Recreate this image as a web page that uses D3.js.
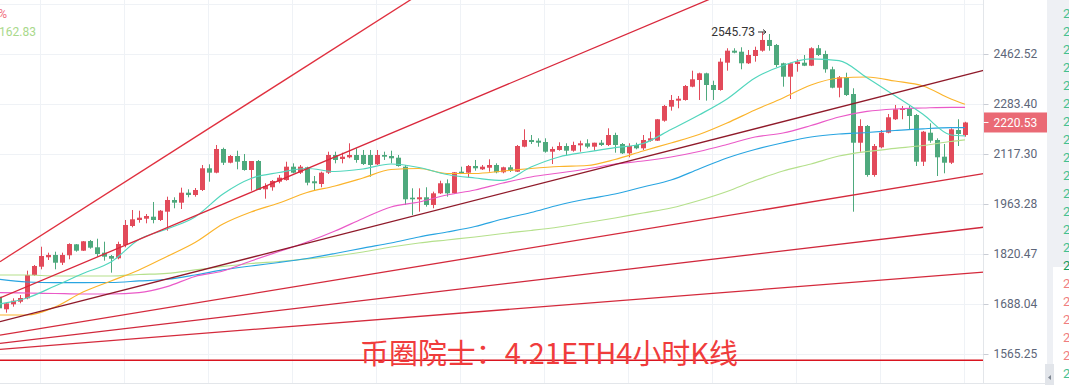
<!DOCTYPE html>
<html><head><meta charset="utf-8">
<script src="https://cdn.jsdelivr.net/npm/d3@7"></script>
<style>html,body{margin:0;padding:0;background:#fff;overflow:hidden}</style>
</head><body><svg id="c" width="1069" height="385"></svg>
<script>
// ---- candle data (4h ETH) ----
const openP = [1706.8,1674.6,1687.2,1693.9,1702.6,1763.6,1785.9,1811.5,1817.8,1796.7,1817.0,1847.3,1829.6,1856.5,1839.0,1824.1,1815.0,1808.7,1845.3,1899.1,1916.4,1920.2,1926.0,1916.4,1940.6,1975.2,1967.2,1997.1,1990.1,2005.3,2072.1,2058.4,2133.4,2089.6,2110.9,2095.0,2066.8,2095.0,2007.4,2013.5,2030.6,2035.6,2077.1,2058.4,2075.2,2031.8,2023.5,2058.4,2114.1,2101.4,2106.8,2114.1,2114.1,2114.1,2084.6,2114.1,2110.9,2105.5,2077.1,1982.1,1977.3,1983.3,1960.4,1995.2,2025.7,1995.2,2061.5,2058.4,2079.3,2068.9,2073.9,2082.4,2059.6,2075.2,2061.5,2140.8,2162.6,2160.3,2156.0,2124.7,2130.2,2143.0,2127.9,2145.3,2151.8,2140.8,2153.7,2146.3,2178.9,2149.5,2119.5,2146.3,2135.6,2160.3,2160.3,2226.5,2274.2,2294.9,2297.3,2343.9,2367.7,2391.7,2349.9,2332.2,2430.4,2474.9,2471.1,2428.2,2455.1,2474.9,2515.3,2496.3,2428.2,2379.5,2425.6,2430.4,2419.4,2484.0,2462.5,2406.3,2340.3,2377.4,2318.1,2153.7,2208.8,2051.2,2138.9,2186.5,2231.3,2262.9,2268.7,2245.8,2092.8,2186.5,2162.6,2108.7,2089.6,2195.5,2178.9];
const highP = [1711.1,1691.3,1702.6,1711.1,1775.2,1790.5,1840.6,1824.1,1826.8,1824.1,1850.1,1848.1,1856.5,1859.4,1863.0,1854.6,1817.8,1854.6,1916.4,1945.6,1943.5,1933.8,1969.3,1945.6,1985.1,1983.3,2012.3,2007.4,2011.3,2082.4,2084.6,2146.3,2137.6,2114.1,2127.9,2117.3,2095.0,2098.2,2025.7,2035.6,2051.2,2092.8,2087.7,2082.4,2077.1,2048.1,2061.5,2124.7,2124.7,2121.5,2151.8,2135.6,2130.2,2130.2,2130.2,2124.7,2127.9,2114.1,2082.4,2010.4,2010.4,2013.5,2000.2,2033.5,2037.7,2060.5,2077.1,2082.4,2098.2,2082.4,2100.4,2087.7,2077.1,2082.4,2146.3,2197.8,2178.9,2168.1,2168.1,2140.8,2155.1,2151.8,2157.0,2160.3,2164.9,2153.7,2162.6,2201.1,2186.5,2152.8,2151.8,2153.7,2178.9,2189.8,2232.3,2280.0,2314.6,2311.2,2349.9,2401.2,2393.9,2393.9,2365.2,2446.7,2484.0,2484.0,2487.6,2477.5,2489.9,2545.73,2538.0,2500.0,2430.4,2430.4,2443.0,2458.8,2487.6,2496.3,2474.9,2415.7,2382.0,2393.9,2338.2,2231.3,2212.1,2149.5,2195.5,2249.2,2280.0,2276.6,2276.6,2249.2,2192.2,2217.8,2168.1,2149.5,2201.1,2231.3,2223.0];
const lowP = [1672.8,1666.0,1681.2,1689.8,1700.1,1761.0,1778.9,1804.1,1778.9,1790.5,1806.0,1826.8,1828.8,1835.1,1813.1,1802.2,1769.8,1806.0,1839.0,1895.4,1908.6,1906.8,1906.8,1913.5,1885.7,1950.6,1948.5,1983.3,1985.1,2002.2,2030.6,2056.5,2082.4,2087.7,2068.9,2064.6,2003.1,2005.3,1979.1,2003.1,2025.7,2033.5,2056.5,2054.3,2019.5,2003.1,2013.5,2054.3,2087.7,2087.7,2103.6,2089.6,2082.4,2045.9,2082.4,2098.2,2087.7,2077.1,1960.4,1930.9,1940.6,1955.4,1950.6,1993.1,1985.1,1993.1,2054.3,2044.1,2064.6,2066.8,2061.5,2056.5,2056.5,2060.5,2060.5,2138.9,2149.5,2140.8,2121.5,2085.5,2127.9,2114.1,2124.7,2124.7,2135.6,2127.9,2143.0,2143.0,2121.5,2117.3,2106.8,2132.4,2130.2,2157.0,2159.3,2223.1,2260.5,2268.7,2294.9,2341.8,2297.3,2294.9,2297.3,2329.8,2401.2,2465.1,2406.3,2425.6,2434.1,2471.1,2474.9,2413.6,2343.9,2300.7,2397.6,2417.9,2417.9,2455.1,2393.9,2338.2,2306.6,2311.2,1940.6,2124.7,2045.9,2045.9,2135.6,2184.5,2228.9,2231.3,2197.8,2079.3,2079.3,2153.7,2048.1,2056.5,2085.5,2143.0,2173.3];
const closeP = [1677.1,1689.8,1696.5,1703.4,1763.6,1787.8,1815.0,1817.8,1796.7,1817.8,1848.1,1829.6,1855.7,1837.9,1820.5,1813.1,1807.6,1848.1,1902.0,1918.4,1923.1,1928.0,1916.4,1943.5,1975.2,1967.2,1997.1,1990.1,2005.3,2072.1,2058.4,2133.4,2089.6,2110.9,2092.8,2066.8,2095.0,2005.3,2017.4,2032.7,2042.9,2077.1,2058.4,2077.1,2027.5,2025.7,2058.4,2114.1,2098.2,2108.7,2114.1,2098.2,2085.5,2082.4,2114.1,2108.7,2103.6,2079.3,1977.3,1977.3,1983.3,1960.4,1995.2,2025.7,1995.2,2059.6,2056.5,2079.3,2072.1,2077.1,2082.4,2059.6,2075.2,2063.7,2143.0,2162.6,2156.0,2153.7,2124.7,2133.4,2143.0,2127.9,2146.3,2151.8,2140.8,2153.7,2146.3,2178.9,2146.3,2119.5,2143.0,2135.6,2162.6,2168.1,2231.3,2276.6,2297.3,2301.8,2346.3,2370.2,2391.7,2349.9,2332.2,2434.1,2474.9,2467.4,2428.2,2458.8,2477.5,2515.3,2492.5,2422.0,2379.5,2428.2,2434.1,2419.4,2484.0,2458.8,2406.3,2340.3,2377.4,2314.6,2153.7,2208.8,2051.2,2143.0,2186.5,2238.0,2265.3,2268.7,2242.4,2092.8,2189.8,2160.3,2106.8,2089.6,2197.8,2182.2,2220.53];

// ---- moving averages, sampled at candle indexes ----
const maIdx = [0,4,8,12,16,20,24,28,32,36,40,44,48,52,56,60,64,68,72,76,80,84,88,92,96,100,104,108,112,116,120,124,128,132,136,138];
const maCyan = [1688.0,1703.4,1734.6,1767.6,1798.7,1860.8,1890.6,1925.1,1993.1,2040.4,2059.0,2071.5,2062.1,2069.9,2085.5,2074.6,2052.8,2042.0,2034.3,2076.1,2107.8,2123.7,2137.6,2151.1,2197.1,2245.8,2300.8,2374.9,2420.1,2444.1,2438.0,2376.0,2312.0,2248.0,2179.0,2176.0];
const maOrange = [1660.2,1660.2,1680.4,1718.9,1747.8,1777.1,1813.7,1852.3,1904.8,1939.7,1966.3,1997.7,2017.4,2042.0,2068.3,2071.5,2055.9,2055.9,2063.7,2071.5,2077.7,2080.8,2099.8,2127.0,2152.8,2180.6,2218.8,2262.9,2304.2,2349.9,2374.9,2378.5,2364.1,2346.3,2300.8,2282.4];
const maPink = [1717.1,1716.3,1715.0,1713.7,1713.7,1717.1,1732.8,1759.7,1774.4,1801.4,1827.4,1853.7,1884.9,1920.8,1954.5,1969.3,1990.1,2005.3,2026.6,2045.1,2057.4,2069.9,2085.5,2095.0,2107.8,2125.4,2147.9,2172.4,2185.5,2210.4,2239.1,2257.8,2266.3,2269.7,2272.1,2272.1];
const maBlue = [1752.3,1745.1,1743.2,1743.2,1743.8,1747.8,1752.3,1763.6,1777.1,1787.8,1797.3,1808.2,1821.9,1836.9,1850.9,1867.8,1882.0,1897.7,1919.3,1938.2,1960.3,1978.2,1993.1,2014.4,2035.6,2069.9,2104.6,2131.8,2153.7,2172.4,2182.2,2187.2,2193.8,2199.5,2203.1,2203.1];
const maLime = [1763.6,1763.6,1761.0,1761.0,1761.0,1765.0,1768.2,1777.1,1786.5,1794.6,1800.0,1806.9,1815.0,1826.0,1839.8,1850.9,1859.4,1867.8,1877.7,1886.3,1896.2,1909.1,1922.2,1936.8,1951.5,1973.7,2000.7,2034.1,2063.7,2085.5,2111.0,2125.4,2135.2,2144.6,2157.7,2162.83];

// ---- drawn fan / trend lines: [start index, start price] -> [end index, end price] ----
const fanI0 = [0,0,0,0,0,0];
const fanP0 = [1797.8,1702.4,1643.0,1610.3,1590.5,1576.2];
const fanI1 = [60,102,140,140,140,140];
const fanP1 = [2694.5,2680.7,2397.9,2053.1,1894.0,1770.6];
const supportLevel = 1550.5;

// ---- axes ----
const yTicks = [2462.52,2283.40,2117.30,1963.28,1820.47,1688.04,1565.25];
const yGridExtra = [2655.6];
const xGridIdx = [6,18,30,42,54,66,78,90,102,114,126,138];
const maxLabel = "2545.73";
const legendPct = "+0.12%";
const legendLime = "2162.83";
const titleText = "币圈院士：4.21ETH4小时K线";

const W = 1069, H = 385;
const plotR = 983.5, plotB = 383;
const svg = d3.select("#c");
const x = d3.scaleLinear().domain([0,140]).range([-1,979]);
const y = d3.scaleLog().domain([1565.25,2462.52]).range([354,54]);

svg.append("defs").append("clipPath").attr("id","clip")
  .append("rect").attr("x",0).attr("y",0).attr("width",plotR).attr("height",plotB);

// grid
const grid = svg.append("g").attr("stroke","#eff2f6").attr("stroke-width",1);
yTicks.concat(yGridExtra).forEach(v=>{
  const yy = Math.round(y(v))+0.5;
  grid.append("line").attr("x1",0).attr("x2",plotR).attr("y1",yy).attr("y2",yy);
});
xGridIdx.forEach(i=>{
  const xx = Math.round(x(i))-0.5;
  grid.append("line").attr("x1",xx).attr("x2",xx).attr("y1",0).attr("y2",plotB);
});

const plot = svg.append("g").attr("clip-path","url(#clip)");

// candles
const UP = "#e24a5a", DN = "#4ea97d";
const candles = d3.range(openP.length).map(i=>({i,o:openP[i],h:highP[i],l:lowP[i],c:closeP[i]}));
const cg = plot.append("g");
candles.forEach(d=>{
  const col = d.c >= d.o ? UP : DN;
  const cx = Math.round(x(d.i));
  cg.append("line").attr("x1",cx+0.5).attr("x2",cx+0.5)
    .attr("y1",y(d.h)).attr("y2",y(d.l)).attr("stroke",col).attr("stroke-width",1);
  const top = y(Math.max(d.o,d.c)), bot = y(Math.min(d.o,d.c));
  cg.append("rect").attr("x",cx-2).attr("width",5)
    .attr("y",top).attr("height",Math.max(1,bot-top)).attr("fill",col);
});

// moving averages
const maSeries = [
  {v:maLime, c:"#b5e08c"},
  {v:maBlue, c:"#29a5e1"},
  {v:maPink, c:"#ea5ac8"},
  {v:maOrange, c:"#fbb42c"},
  {v:maCyan, c:"#52d6bd"}
];
const ln = d3.line().x(d=>x(d[0])).y(d=>y(d[1])).curve(d3.curveMonotoneX);
maSeries.forEach(s=>{
  plot.append("path").datum(maIdx.map((k,j)=>[k,s.v[j]]))
    .attr("d",ln).attr("fill","none").attr("stroke",s.c).attr("stroke-width",1.2);
});

// fan lines
const fanCols = ["#e0303f","#d9283c","#8f1a2a","#d42a3c","#d0283c","#d42a3c"];
fanI0.forEach((_,k)=>{
  const x0 = x(fanI0[k]), y0 = y(fanP0[k]), x1 = x(fanI1[k]), y1 = y(fanP1[k]);
  const s = (y1-y0)/(x1-x0);
  const xa = 0, xb = plotR;
  plot.append("line").attr("x1",xa).attr("y1",y0+s*(xa-x0))
    .attr("x2",xb).attr("y2",y0+s*(xb-x0))
    .attr("stroke",fanCols[k]).attr("stroke-width",1.3);
});
plot.append("line").attr("x1",0).attr("x2",plotR)
  .attr("y1",y(supportLevel)).attr("y2",y(supportLevel))
  .attr("stroke","#d9141f").attr("stroke-width",1.3);

// max annotation
let imax = d3.maxIndex(highP);
const ay = y(highP[imax]);
const ax1 = x(imax)+4, ax0 = ax1-8;
svg.append("text").attr("x",ax0-3).attr("y",ay+4).attr("text-anchor","end")
  .attr("font-family","Roboto").attr("font-size",12).attr("fill","#333").text(maxLabel);
svg.append("path").attr("d",`M${ax0},${ay}H${ax1}M${ax1-3},${ay-2.5}L${ax1},${ay}L${ax1-3},${ay+2.5}`)
  .attr("fill","none").attr("stroke","#333").attr("stroke-width",1);

// borders
svg.append("line").attr("x1",plotR).attr("x2",plotR).attr("y1",0).attr("y2",plotB)
  .attr("stroke","#e3e6ea");
svg.append("line").attr("x1",0).attr("x2",1047).attr("y1",plotB+0.5).attr("y2",plotB+0.5)
  .attr("stroke","#e3e6ea");

// right axis
const axisG = svg.append("g").attr("transform",`translate(${plotR},0)`)
  .call(d3.axisRight(y).tickValues(yTicks).tickFormat(d=>d.toFixed(2)).tickSize(5).tickPadding(5));
axisG.select(".domain").remove();
axisG.selectAll(".tick line").attr("stroke","#c9cdd5");
axisG.selectAll(".tick text").attr("fill","#5d6679").attr("font-family","Roboto").attr("font-size",12);

// last price label
const last = closeP[closeP.length-1];
const ly = y(last);
svg.append("rect").attr("x",plotR+0.5).attr("y",ly-10).attr("width",63).attr("height",20).attr("fill","#ea6a75");
svg.append("line").attr("x1",plotR).attr("x2",plotR+5).attr("y1",ly).attr("y2",ly).attr("stroke","#fff");
svg.append("text").attr("x",plotR+10).attr("y",ly+4.3).attr("fill","#fff")
  .attr("font-family","Roboto").attr("font-size",12).text(last.toFixed(2));

// right side panel (partially visible)
svg.append("rect").attr("x",1047).attr("y",0).attr("width",22).attr("height",267).attr("fill","#eef0f4");
svg.append("rect").attr("x",1047).attr("y",267).attr("width",6).attr("height",118).attr("fill","#eef0f4");
for (let k=-1;k<=20;k++){
  let col = "#45c08f";
  if (k===14) col = "#13995a";
  else if (k>=15 && k<=19) col = "#f07f80";
  svg.append("text").attr("x",1063).attr("y",13.3+18*k+4.5)
    .attr("font-family","Roboto").attr("font-size",13).attr("fill",col).text("2215.4");
}
svg.append("rect").attr("x",1045).attr("y",364).attr("width",9).attr("height",21).attr("fill","#e2e5ea");
svg.append("path").attr("d","M1051,375 L1048,377.5 L1051,380 Z").attr("fill","#7d8590");

// legend (cut at left edge)
svg.append("text").attr("x",7).attr("y",18).attr("text-anchor","end")
  .attr("font-family","Roboto").attr("font-size",12).attr("fill","#f07080").text(legendPct);
svg.append("text").attr("x",36).attr("y",36).attr("text-anchor","end")
  .attr("font-family","Roboto").attr("font-size",12).attr("fill","#a9d98b").text(legendLime);

// title
const t = svg.append("text").attr("x",360).attr("y",364)
  .attr("font-family","'Noto Sans CJK SC'").attr("font-size",28).attr("fill","#f03c3c").text(titleText);
const len = t.node().getComputedTextLength();
t.attr("font-size", 28*378/len);
</script>
</body></html>
